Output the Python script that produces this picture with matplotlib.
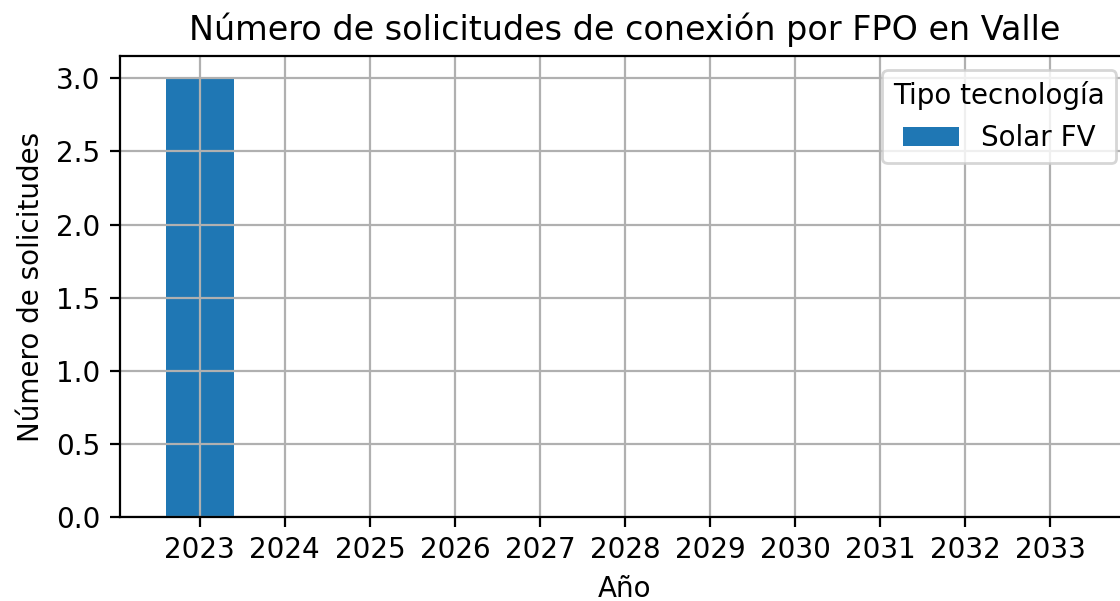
import matplotlib
matplotlib.use('Agg')
import matplotlib.pyplot as plt

# Data
years = [2023, 2024, 2025, 2026, 2027, 2028, 2029, 2030, 2031, 2032, 2033]
solar_fv = [3, 0, 0, 0, 0, 0, 0, 0, 0, 0, 0]

# Plot
fig = plt.figure(figsize=(5.6, 3.005), dpi=200)
ax = fig.add_axes([0.107, 0.14, 0.902, 0.766])

ax.bar(years, solar_fv, width=0.8, color='#1f77b4', label='Solar FV')
ax.set_xticks(years)
ax.set_title('Número de solicitudes de conexión por FPO en Valle')
ax.set_ylabel('Número de solicitudes')
ax.set_xlabel('Año')
ax.grid(True)
ax.legend(title='Tipo tecnología', loc='upper right')

plt.savefig('out.png', dpi=200)
